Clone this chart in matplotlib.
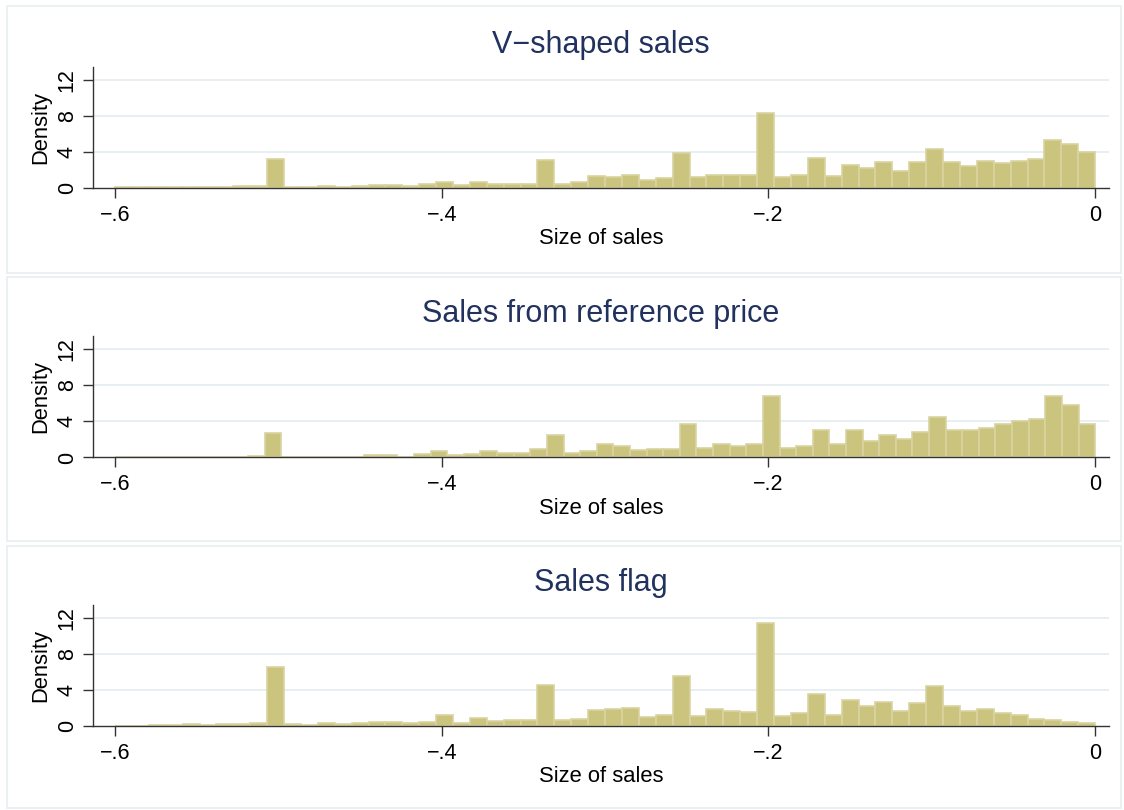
import numpy as np
import matplotlib
matplotlib.use("Agg")
import matplotlib.pyplot as plt
from matplotlib.patches import Rectangle

plt.rcParams["font.family"] = ["Liberation Sans", "DejaVu Sans"]

# ------------------------------------------------------------
# Histogram densities (share of sales by size), range -0.6 .. 0
# ------------------------------------------------------------

BIN_LO, BIN_HI = -0.6, 0.0

vshaped_density = [
    0.06, 0.06, 0.06, 0.06, 0.06, 0.06, 0.06, 0.2, 0.2, 3.2,
    0.08, 0.08, 0.2, 0.1, 0.25, 0.35, 0.35, 0.2, 0.45, 0.65,
    0.35, 0.65, 0.5, 0.45, 0.5, 3.1, 0.5, 0.65, 1.3, 1.26,
    1.5, 0.85, 1.07, 3.85, 1.2, 1.5, 1.5, 1.4, 8.3, 1.2,
    1.4, 3.3, 1.3, 2.6, 2.2, 2.85, 1.85, 2.85, 4.3, 2.85,
    2.5, 2.95, 2.75, 3.05, 3.2, 5.3, 4.85, 3.95,
]

refprice_density = [
    0.08, 0.06, 0.06, 0.06, 0.08, 0.08, 0.08, 0.08, 0.2, 2.75,
    0.08, 0.06, 0.06, 0.06, 0.08, 0.25, 0.25, 0.08, 0.35, 0.7,
    0.25, 0.35, 0.7, 0.47, 0.45, 0.92, 2.45, 0.47, 0.7, 1.45,
    1.23, 0.8, 0.92, 0.92, 3.7, 1.02, 1.45, 1.32, 1.45, 6.85,
    1.1, 1.33, 3.0, 1.55, 3.1, 1.78, 2.45, 2.0, 2.78, 4.45,
    3.0, 3.1, 3.33, 3.67, 4.1, 4.33, 6.78, 5.78, 3.67,
]

flag_density = [
    0.05, 0.05, 0.1, 0.1, 0.22, 0.1, 0.22, 0.25, 0.42, 6.55,
    0.22, 0.15, 0.33, 0.22, 0.34, 0.52, 0.45, 0.34, 0.45, 1.22,
    0.34, 0.92, 0.6, 0.66, 0.66, 4.57, 0.72, 0.76, 1.78, 1.96,
    2.07, 1.07, 1.3, 5.63, 1.18, 1.96, 1.74, 1.63, 11.5, 1.18,
    1.52, 3.63, 1.3, 2.96, 2.3, 2.74, 1.74, 2.63, 4.52, 2.3,
    1.74, 1.96, 1.52, 1.3, 0.85, 0.67, 0.52, 0.41,
]

panel_titles = ["V\u2212shaped sales", "Sales from reference price", "Sales flag"]
panel_data = [vshaped_density, refprice_density, flag_density]

x_ticks = [-0.6, -0.4, -0.2, 0.0]
x_tick_labels = ["\u2212.6", "\u2212.4", "\u2212.2", "0"]
y_ticks = [0, 4, 8, 12]
y_tick_labels = ["0", "4", "8", "12"]

# ------------------------------------------------------------
# Style
# ------------------------------------------------------------

BAR_FILL = "#cbc47f"
BAR_EDGE = "#d9d3a0"
GRID = "#e6eef1"
FRAME = "#e8eef0"
TITLE_COLOR = "#22325e"
AXIS_COLOR = "#333333"

W, H = 1124, 810
fig = plt.figure(figsize=(W / 100, H / 100), dpi=100)
fig.patch.set_facecolor("white")

# panel boxes (top, bottom in pixels) and axes zero line in pixels
panel_boxes = [(6, 273), (277, 541), (546, 808)]
axes_zero = [188, 457.5, 726.3]
title_base = [52.5, 322, 591]

ax_left, ax_right = 93, 1109
ax_height = 121.5

for (top, bot) in panel_boxes:
    fig.patches.append(Rectangle((7 / W, 1 - bot / H), (W - 10) / W, (bot - top) / H,
                                 transform=fig.transFigure, facecolor="none",
                                 edgecolor=FRAME, linewidth=1.2, zorder=-1))

for title, dens, y0, tb in zip(panel_titles, panel_data, axes_zero, title_base):
    ax = fig.add_axes([ax_left / W, 1 - y0 / H, (ax_right - ax_left) / W, ax_height / H])
    ax.patch.set_alpha(0)

    n = len(dens)
    edges = np.linspace(BIN_LO, BIN_HI, n + 1)
    ax.bar(edges[:-1], dens, width=np.diff(edges), align="edge",
           color=BAR_FILL, edgecolor=BAR_EDGE, linewidth=1.2, zorder=2)

    ax.set_xlim(-0.6135, 0.0085)
    ax.set_ylim(0, 13.5)

    for yv in y_ticks[1:]:
        ax.axhline(yv, color=GRID, linewidth=1.3, zorder=1)

    ax.set_xticks(x_ticks)
    ax.set_xticklabels(x_tick_labels)
    ax.set_yticks(y_ticks)
    ax.set_yticklabels(y_tick_labels, rotation=90, va="center")
    ax.tick_params(axis="both", direction="out", length=7, width=1.0,
                   color=AXIS_COLOR, labelsize=15.5, pad=5)
    ax.tick_params(axis="y", pad=4)

    for side in ["top", "right"]:
        ax.spines[side].set_visible(False)
    for side in ["left", "bottom"]:
        ax.spines[side].set_color(AXIS_COLOR)
        ax.spines[side].set_linewidth(1.0)
        ax.spines[side].set_zorder(3)

    ax.set_xlabel("Size of sales", fontsize=15.8)
    ax.xaxis.set_label_coords(0.5, -0.33)
    ax.set_ylabel("Density", fontsize=15.8)
    ax.yaxis.set_label_coords(-0.041, 0.5)

    fig.text((ax_left + ax_right) / 2 / W, 1 - tb / H, title, ha="center",
             va="baseline", fontsize=22, color=TITLE_COLOR)

fig.savefig("out.png", dpi=100, facecolor="white")
